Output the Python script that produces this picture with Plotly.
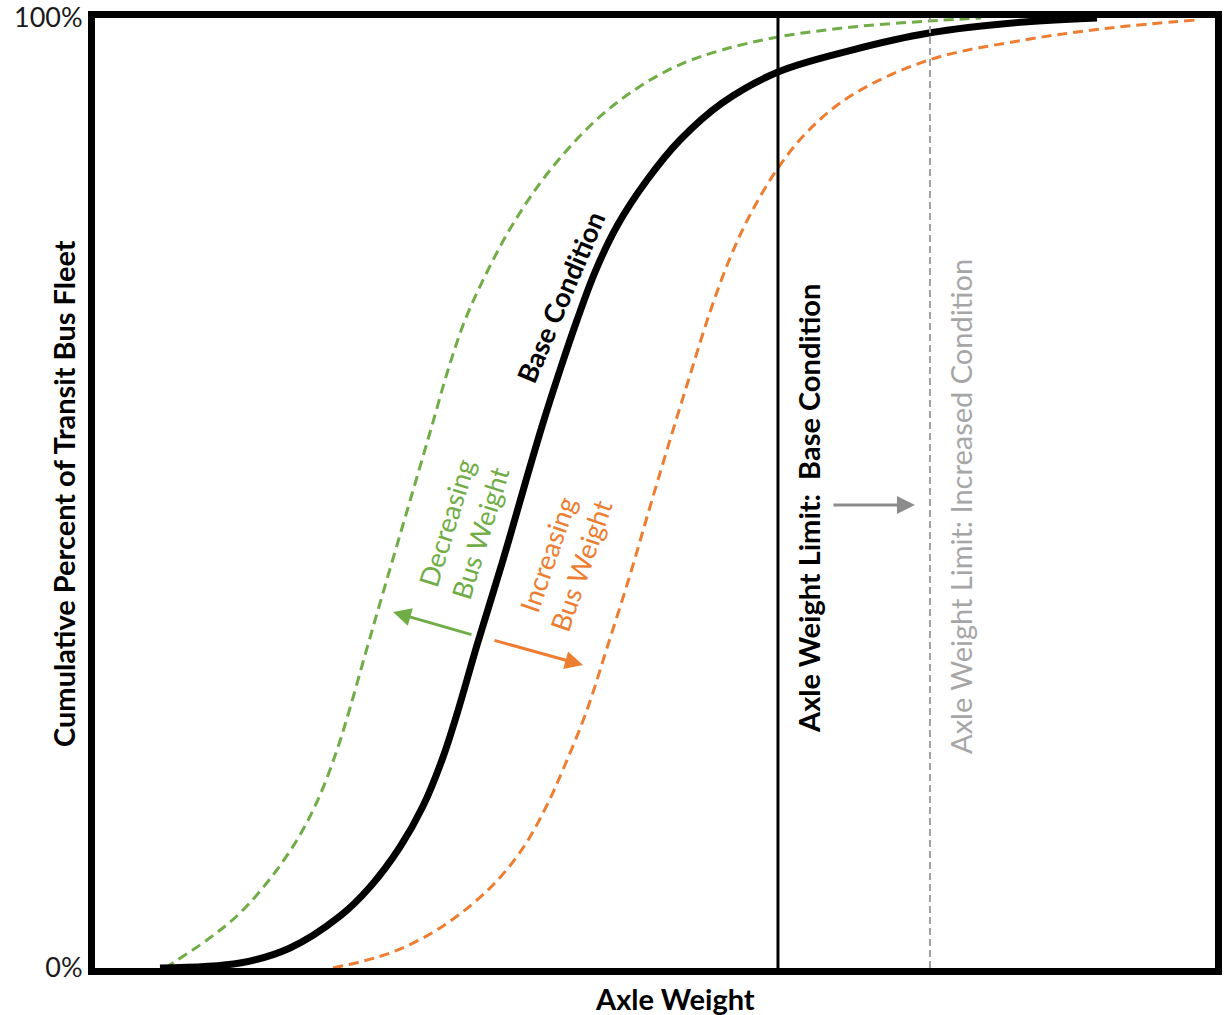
import plotly.graph_objects as go

# ---- data (axle weight in arbitrary units 0-100, cumulative percent 0-100) ----
base_x = [5.8, 12.95, 17.41, 21.88, 24.55, 27.23, 29.29, 30.98, 32.32, 34.11, 36.43, 38.57, 40.0,
          41.52, 43.04, 44.64, 46.61, 49.29, 52.23, 55.98, 60.98, 67.59, 74.46, 82.95, 89.46]
base_y = [0.0, 0.53, 2.11, 5.47, 8.53, 12.74, 17.05, 21.89, 26.74, 34.0, 42.95, 51.68, 57.37,
          62.95, 68.21, 73.26, 78.11, 82.95, 87.16, 91.05, 94.32, 96.63, 98.42, 99.58, 100.0]

dec_x = [6.25, 10.0, 12.95, 15.89, 18.3, 20.09, 21.61, 22.77, 24.11, 25.45, 27.23, 28.75, 30.18,
         31.52, 33.04, 35.0, 37.32, 40.36, 44.46, 48.3, 52.14, 55.98, 60.98, 67.59, 74.46, 79.11]
dec_y = [0.0, 2.95, 5.79, 9.79, 14.0, 18.21, 22.95, 27.37, 32.95, 38.42, 45.58, 51.68, 57.47,
         62.95, 68.21, 73.26, 78.32, 83.58, 88.95, 92.53, 95.05, 96.63, 98.0, 99.05, 99.68, 100.0]

inc_x = [21.25, 26.34, 30.8, 35.27, 38.21, 40.36, 41.96, 43.93, 45.71, 47.77, 49.55, 51.34, 53.13,
         54.91, 56.7, 58.48, 60.98, 63.75, 67.59, 74.46, 82.95, 90.63, 98.3]
inc_y = [0.0, 1.58, 4.21, 8.42, 12.63, 17.16, 21.37, 27.16, 33.68, 41.37, 48.53, 55.58, 62.42,
         69.05, 74.74, 79.26, 84.21, 88.21, 91.89, 95.58, 97.68, 98.95, 99.79]

limit_base = 60.98
limit_increased = 74.55

y_tickvals = [0, 100]
y_ticktext = ["0%", "100%"]

GREEN = "#70AD47"
ORANGE = "#ED7D31"
GRAY_LINE = "#A0A0A0"
GRAY_TEXT = "#A6A6A6"
GRAY_ARROW = "#8C8C8C"
FONT = "Lato"

fig = go.Figure()

fig.add_trace(go.Scatter(x=dec_x, y=dec_y, mode="lines",
                         line=dict(color=GREEN, width=3, dash="10px,6px", shape="spline", smoothing=1.0),
                         hoverinfo="skip"))
fig.add_trace(go.Scatter(x=inc_x, y=inc_y, mode="lines",
                         line=dict(color=ORANGE, width=3, dash="10px,6px", shape="spline", smoothing=1.0),
                         hoverinfo="skip"))
fig.add_trace(go.Scatter(x=base_x, y=base_y, mode="lines",
                         line=dict(color="black", width=7, shape="spline", smoothing=1.0),
                         hoverinfo="skip"))

# axle weight limit lines
fig.add_shape(type="line", xref="x", yref="y", x0=limit_base, x1=limit_base, y0=0, y1=100,
              line=dict(color="black", width=3))
fig.add_shape(type="line", xref="x", yref="y", x0=limit_increased, x1=limit_increased, y0=0, y1=100,
              line=dict(color=GRAY_LINE, width=2, dash="7px,4px"))

ann = []
# curve labels
ann.append(dict(x=41.52, y=70.63, xref="x", yref="y", text="<b>Base Condition</b>", textangle=-67,
                showarrow=False, font=dict(family=FONT, size=27, color="black")))
ann.append(dict(x=32.86, y=46.32, xref="x", yref="y", text="Decreasing<br>Bus Weight", textangle=-73,
                showarrow=False, font=dict(family=FONT, size=27, color=GREEN)))
ann.append(dict(x=41.88, y=42.95, xref="x", yref="y", text="Increasing<br>Bus Weight", textangle=-71,
                showarrow=False, font=dict(family=FONT, size=27, color=ORANGE)))
ann.append(dict(x=63.66, y=48.42, xref="x", yref="y", text="<b>Axle Weight Limit:  Base Condition</b>",
                textangle=-90, showarrow=False, font=dict(family=FONT, size=29, color="black")))
ann.append(dict(x=77.23, y=48.63, xref="x", yref="y", text="Axle Weight Limit: Increased Condition",
                textangle=-90, showarrow=False, font=dict(family=FONT, size=29, color=GRAY_TEXT)))
# arrows
ann.append(dict(x=26.61, y=37.47, ax=33.75, ay=35.05, xref="x", yref="y", axref="x", ayref="y", text="",
                showarrow=True, arrowhead=2, arrowsize=1.2, arrowwidth=3, arrowcolor=GREEN))
ann.append(dict(x=43.57, y=31.89, ax=35.54, ay=34.53, xref="x", yref="y", axref="x", ayref="y", text="",
                showarrow=True, arrowhead=2, arrowsize=1.2, arrowwidth=3, arrowcolor=ORANGE))
ann.append(dict(x=73.21, y=48.74, ax=65.8, ay=48.74, xref="x", yref="y", axref="x", ayref="y", text="",
                showarrow=True, arrowhead=2, arrowsize=1.2, arrowwidth=3, arrowcolor=GRAY_ARROW))
# axis titles
ann.append(dict(x=-0.0286, y=0.5, xref="paper", yref="paper", xanchor="center", yanchor="middle",
                text="<b>Cumulative Percent of Transit Bus Fleet</b>",
                textangle=-90, showarrow=False, font=dict(family=FONT, size=29, color="black")))
ann.append(dict(x=0.518, y=-0.0316, xref="paper", yref="paper", xanchor="center", yanchor="middle",
                text="<b>Axle Weight</b>",
                showarrow=False, font=dict(family=FONT, size=29, color="black")))

fig.update_layout(
    width=1225, height=1015,
    margin=dict(l=95, r=10, t=18, b=47, autoexpand=False),
    paper_bgcolor="white", plot_bgcolor="white",
    showlegend=False,
    annotations=ann,
    xaxis=dict(range=[0, 100], showgrid=False, zeroline=False, showticklabels=False, ticks="",
               showline=True, mirror=True, linecolor="black", linewidth=7, automargin=False),
    yaxis=dict(range=[0, 100], showgrid=False, zeroline=False, tickvals=y_tickvals, ticktext=y_ticktext,
               ticks="", showline=True, mirror=True, linecolor="black", linewidth=7,
               ticklabeloverflow="allow", automargin=False,
               tickfont=dict(family=FONT, size=27, color="#1a1a1a")),
)

fig.write_html("out.html", config={"displayModeBar": False},
               post_script="document.body.style.margin='0';")
